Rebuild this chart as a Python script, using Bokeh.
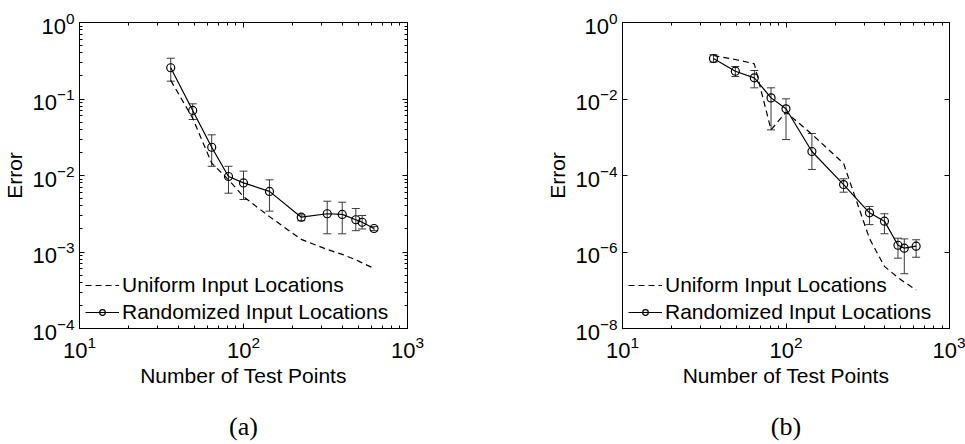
from bokeh.plotting import figure
from bokeh.layouts import row, column
from bokeh.models import (LogAxis, FixedTicker, Whisker, TeeHead, ColumnDataSource,
                          Legend, LegendItem)
from bokeh.core.properties import value
from bokeh.embed import file_html
from bokeh.resources import INLINE

# ---------------- data ----------------
n_points = [36, 49, 64, 81, 100, 144, 225, 324, 400, 484, 529, 625]

# panel (a)
a_uniform = [0.175, 0.056, 0.0145, 0.0088, 0.0053, 0.0029, 0.00146, 0.00108,
             0.00093, 0.00079, 0.00072, 0.00061]
a_random = [0.256, 0.0708, 0.0234, 0.0097, 0.0080, 0.0062, 0.00285, 0.00316,
            0.0031, 0.00264, 0.00245, 0.00203]
a_upper = [0.341, 0.0865, 0.034, 0.0132, 0.0114, 0.00878, 0.00306, 0.00461,
           0.00448, 0.0037, 0.0030, 0.00215]
a_lower = [0.171, 0.054, 0.0132, 0.00587, 0.00486, 0.00342, 0.00256, 0.00173,
           0.00173, 0.0019, 0.0020, 0.0019]

# panel (b)
b_uniform = [0.137, 0.108, 0.0832, 0.00157, 0.00452, 0.0012, 2.06e-4, 2.25e-6,
             4.2e-7, 2.15e-7, 1.64e-7, 1.02e-7]
b_random = [0.1146, 0.0533, 0.0358, 0.0107, 0.00554, 0.000424, 5.8e-5, 1.06e-5,
            6.4e-6, 1.5e-6, 1.26e-6, 1.42e-6]
b_upper = [0.143, 0.0707, 0.0556, 0.0196, 0.0101, 0.00125, 8.2e-5, 1.55e-5,
           1.0e-5, 2.3e-6, 2.2e-6, 2.09e-6]
b_lower = [0.0918, 0.0387, 0.0196, 0.00156, 0.00087, 1.44e-4, 3.66e-5, 5.2e-6,
           3.0e-6, 6.9e-7, 2.7e-7, 7.3e-7]

x_major = [10, 100, 1000]
a_y_major = [1e-4, 1e-3, 1e-2, 1e-1, 1]
b_y_major = [1e-8, 1e-6, 1e-4, 1e-2, 1]

legend_labels = ["Uniform Input Locations", "Randomized Input Locations"]
x_label = "Number of Test Points"
y_label = "Error"
captions = ["(a)", "(b)"]

FONT = "Liberation Sans"
SERIF = "Liberation Serif"


def minors(decades):
    out = []
    for d in decades[:-1]:
        for k in range(2, 10):
            out.append(k * d)
    return out


def style_axis(ax, show_labels):
    ax.axis_line_color = "black"
    ax.axis_line_width = 1
    ax.major_tick_in = 5
    ax.major_tick_out = 0
    ax.minor_tick_in = 3
    ax.minor_tick_out = 0
    ax.major_tick_line_color = "black"
    ax.minor_tick_line_color = "black"
    ax.major_label_text_font = FONT
    ax.major_label_text_font_size = "22px"
    ax.major_label_text_color = "black"
    ax.axis_label_text_font = FONT
    ax.axis_label_text_font_size = "21px"
    ax.axis_label_text_font_style = "normal"
    ax.axis_label_text_color = "black"
    if not show_labels:
        ax.major_label_text_color = None


def make_panel(width, border_left, border_right, y_range, y_major, y_minor,
               uniform, random, upper, lower):
    p = figure(width=width, height=400, x_axis_type="log", y_axis_type="log",
               x_range=(10, 1000), y_range=y_range,
               min_border_left=border_left, min_border_right=border_right,
               min_border_top=22, min_border_bottom=72,
               output_backend="svg", toolbar_location=None)
    p.grid.visible = False
    p.outline_line_color = "black"
    p.outline_line_width = 1
    p.background_fill_color = "white"
    p.border_fill_color = "white"

    p.xaxis.ticker = FixedTicker(ticks=x_major, minor_ticks=minors(x_major))
    p.yaxis.ticker = FixedTicker(ticks=y_major, minor_ticks=y_minor)
    p.xaxis.axis_label = x_label
    p.yaxis.axis_label = y_label
    p.xaxis.major_label_standoff = 7
    p.xaxis.axis_label_standoff = 3
    p.yaxis.major_label_standoff = 5
    p.yaxis.axis_label_standoff = 3
    for ax in p.xaxis + p.yaxis:
        style_axis(ax, True)

    top = LogAxis(ticker=FixedTicker(ticks=x_major, minor_ticks=minors(x_major)))
    right = LogAxis(ticker=FixedTicker(ticks=y_major, minor_ticks=y_minor))
    style_axis(top, False)
    style_axis(right, False)
    p.add_layout(top, "above")
    p.add_layout(right, "right")

    src = ColumnDataSource(dict(x=n_points, uniform=uniform, random=random,
                                upper=upper, lower=lower))

    r_uni = p.line("x", "uniform", source=src, line_color="black",
                   line_width=1.2, line_dash="6 4")
    p.add_layout(Whisker(source=src, base="x", upper="upper", lower="lower",
                         dimension="height", line_color="#3a3a3a", line_width=1,
                         upper_head=TeeHead(size=8, line_color="#3a3a3a", line_width=1),
                         lower_head=TeeHead(size=8, line_color="#3a3a3a", line_width=1)))
    r_line = p.line("x", "random", source=src, line_color="black", line_width=1.2)
    r_pts = p.scatter("x", "random", source=src, marker="circle", size=8,
                      fill_color=None, line_color="black", line_width=1.2)

    legend = Legend(items=[LegendItem(label=legend_labels[0], renderers=[r_uni]),
                           LegendItem(label=legend_labels[1], renderers=[r_line, r_pts])],
                    location=(6, 4), border_line_color=None,
                    background_fill_alpha=0.0, padding=10, margin=0,
                    spacing=3, glyph_width=34, glyph_height=14, label_height=22,
                    label_standoff=3, label_text_font=FONT,
                    label_text_font_size="21px", label_text_color="black")
    p.add_layout(legend, "center")
    return p


def make_caption(width, border_left, border_right, caption):
    c = figure(width=width, height=44, x_axis_type="log", x_range=(10, 1000),
               y_range=(0, 1), min_border_left=border_left,
               min_border_right=border_right, min_border_top=0, min_border_bottom=0,
               output_backend="svg", toolbar_location=None)
    c.axis.visible = False
    c.grid.visible = False
    c.outline_line_color = None
    c.border_fill_color = "white"
    c.background_fill_color = "white"
    # centred under the panel: 10^2 is the middle of the log x-range
    c.text(x=[100], y=[0.5], text=[caption], text_align="center",
           text_baseline="middle", text_font=value(SERIF), text_font_size="26px",
           text_color="black", y_offset=4)
    return c


pa = make_panel(430, 79, 23, (1e-4, 1), a_y_major, minors(a_y_major),
                a_uniform, a_random, a_upper, a_lower)
pb = make_panel(535, 192, 16, (1e-8, 1), b_y_major, [],
                b_uniform, b_random, b_upper, b_lower)
ca = make_caption(430, 79, 23, captions[0])
cb = make_caption(535, 192, 16, captions[1])

layout = column(row(pa, pb), row(ca, cb))
open("out.html", "w").write(file_html(layout, INLINE))
